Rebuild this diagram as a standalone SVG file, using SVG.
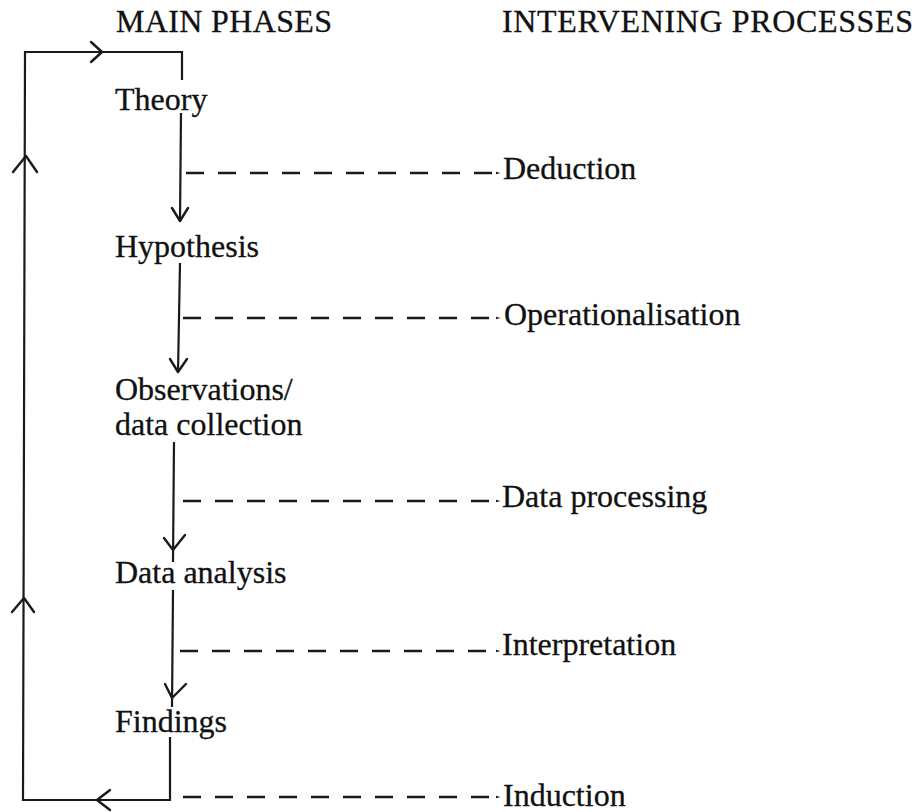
<svg xmlns="http://www.w3.org/2000/svg" width="918" height="812" viewBox="0 0 918 812">
<style>
text{font-family:"Liberation Serif","Times New Roman",serif;font-size:32px;fill:#111;stroke:#111;stroke-width:0.3}
.ln{stroke:#1a1a1a;stroke-width:2.2;fill:none}
.dash{stroke:#1a1a1a;stroke-width:2.4;fill:none;stroke-dasharray:18 14;marker-end:url(#sm)}
.chev{stroke:#1a1a1a;stroke-width:2.4;fill:none;stroke-linecap:round;stroke-linejoin:round}
</style>
<defs>
<marker id="sm" viewBox="0 0 10 10" refX="9" refY="5" markerWidth="5" markerHeight="5" orient="auto" markerUnits="userSpaceOnUse">
<path d="M0,2 L10,5 L0,8" fill="#1a1a1a"/>
</marker>
</defs>
<g id="headers">
<text x="116" y="32" textLength="216" lengthAdjust="spacing">MAIN PHASES</text>
<text x="502" y="32" textLength="411" lengthAdjust="spacing">INTERVENING PROCESSES</text>
</g>
<g id="theory"><text x="115" y="110">Theory</text></g>
<g id="hypothesis"><text x="115" y="257">Hypothesis</text></g>
<g id="observations"><text x="115" y="400">Observations/</text><text x="115" y="435">data collection</text></g>
<g id="data-analysis"><text x="115" y="583">Data analysis</text></g>
<g id="findings"><text x="115" y="732">Findings</text></g>
<g id="deduction"><text x="503" y="179">Deduction</text></g>
<g id="operationalisation"><text x="504" y="325">Operationalisation</text></g>
<g id="data-processing"><text x="502" y="507">Data processing</text></g>
<g id="interpretation"><text x="502" y="655">Interpretation</text></g>
<g id="induction"><text x="503" y="806">Induction</text></g>
<g id="connectors">
<!-- feedback loop -->
<path class="ln" d="M170,737 L170,800 L23,800 L25,52 L182,52 L182,80"/>
<path class="chev" d="M91,42 L102,52 L91,62"/>
<path class="chev" d="M13,172 L26,156 L37,172"/>
<path class="chev" d="M12,612 L24,598 L34,612"/>
<path class="chev" d="M110,790 L97,800 L110,810"/>
<!-- main flow -->
<path class="ln" d="M181,113 L180,221"/>
<path class="chev" d="M172,208 L180,221 L188,208"/>
<path class="ln" d="M180,263 L178,372"/>
<path class="chev" d="M170,359 L178,372 L187,359"/>
<path class="ln" d="M174,442 L173,562"/>
<path class="chev" d="M164,538 L173,550 L185,535"/>
<path class="ln" d="M173,590 L172,707"/>
<path class="chev" d="M165,684 L172,698 L186,684"/>
<!-- intervening processes -->
<path class="dash" d="M186,173 L500,173"/>
<path class="dash" d="M183,318 L500,318"/>
<path class="dash" d="M183,501 L500,501"/>
<path class="dash" d="M180,651 L500,651"/>
<path class="dash" d="M183,797 L500,797"/>
</g>
</svg>
